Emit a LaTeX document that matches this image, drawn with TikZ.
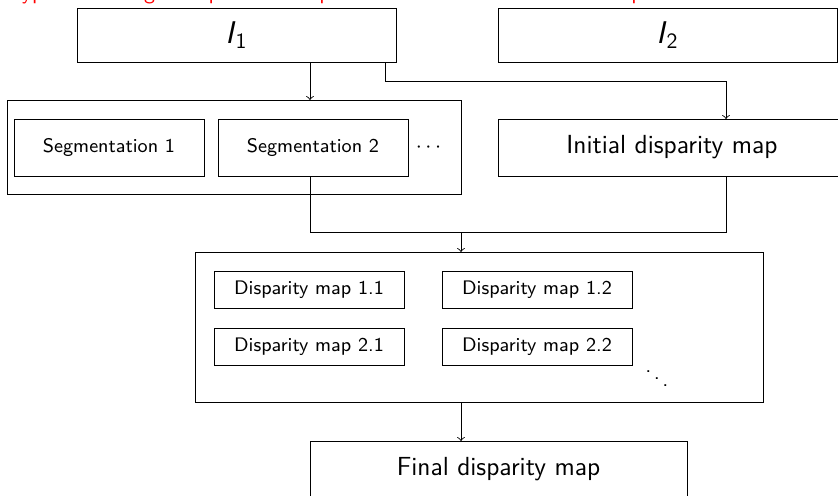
\documentclass[tikz,border=0pt]{standalone}
\usetikzlibrary{calc}
\newcommand\pxunit{0.4587pt}
\begin{document}
\begin{tikzpicture}[x=0.4587pt, y=-0.4587pt,
  font=\sffamily,
  box/.style={draw, inner sep=0pt, outer sep=0pt, align=center},
  bigbox/.style={box, font=\sffamily\Large},
  midbox/.style={box, font=\sffamily\large},
  smallbox/.style={box, font=\sffamily\small},
  wire/.style={draw},
  flow/.style={draw, ->},
  title/.style={text=red, font=\sffamily, anchor=base west, inner sep=0pt}
]
\useasboundingbox (0,0) rectangle (838,495);
\clip (0,0) rectangle (838,495);

% heading line, running along the top edge
\node[title] (head) at (8.5,-0.5) {Typical use: segment pairs of the pictures and estimate the final map};

% input images
\node[bigbox, minimum width=319*\pxunit, minimum height=54*\pxunit] (I1) at (236.5,35) {\textit{I}\textsubscript{1}};
\node[bigbox, minimum width=339*\pxunit, minimum height=54*\pxunit] (I2) at (667.5,35) {\textit{I}\textsubscript{2}};

% segmentations
\node[box, minimum width=454*\pxunit, minimum height=94*\pxunit] (segs) at (234,147) {};
\node[smallbox, minimum width=190*\pxunit, minimum height=57*\pxunit] (seg1) at (109,147.5) {Segmentation 1};
\node[smallbox, minimum width=190*\pxunit, minimum height=57*\pxunit] (seg2) at (313,147.5) {Segmentation 2};
\node[font=\sffamily] (segdots) at (428.5,147.5) {$\cdots$};

% initial disparity
\node[midbox, minimum width=348*\pxunit, minimum height=57*\pxunit] (init) at (672,147.5) {Initial disparity map};

% disparity maps
\node[box, minimum width=568*\pxunit, minimum height=150*\pxunit] (maps) at (479,327) {};
\node[smallbox, minimum width=190*\pxunit, minimum height=37*\pxunit] (d11) at (309,289.5) {Disparity map 1.1};
\node[smallbox, minimum width=190*\pxunit, minimum height=37*\pxunit] (d12) at (537,289.5) {Disparity map 1.2};
\node[smallbox, minimum width=190*\pxunit, minimum height=37*\pxunit] (d21) at (309,346.5) {Disparity map 2.1};
\node[smallbox, minimum width=190*\pxunit, minimum height=37*\pxunit] (d22) at (537,346.5) {Disparity map 2.2};
\node (mapdots) at (657,372) {$\ddots$};

% final result
\node[midbox, minimum width=377*\pxunit, minimum height=57*\pxunit] (final) at (498.5,469.5) {Final disparity map};

% routing points
\coordinate (segx) at (310,0);
\coordinate (tapx) at (385,0);
\coordinate (initx) at (726,0);
\coordinate (upper) at (0,81);
\coordinate (lower) at (0,232);
\coordinate (mergex) at (461,0);

% connectors
\draw[flow] (I1.south -| segx) -- (segs.north -| segx);
\draw[flow] (I1.south -| tapx) -- (tapx |- upper) -- (initx |- upper) -- (init.north -| initx);
\draw[wire] (seg2.south -| segx) -- (segx |- lower) -- (initx |- lower) -- (init.south -| initx);
\draw[flow] (mergex |- lower) -- (maps.north -| mergex);
\draw[flow] (maps.south -| mergex) -- (final.north -| mergex);
\end{tikzpicture}
\end{document}
